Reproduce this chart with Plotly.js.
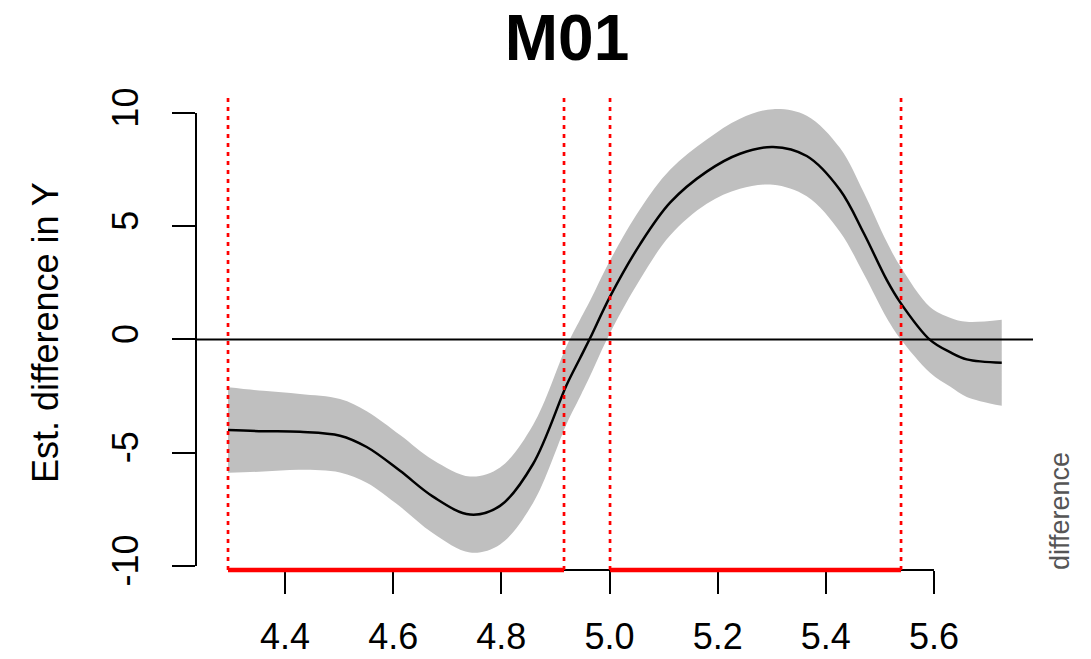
<!DOCTYPE html>
<html>
<head>
<meta charset="utf-8">
<script src="https://cdn.plot.ly/plotly-3.0.1.min.js"></script>
<style>html,body{margin:0;padding:0;background:#fff;}#chart{width:1091px;height:659px;}</style>
</head>
<body>
<div id="chart"></div>
<script>
// Predictor values (x)
var xVals = [4.2946, 4.36, 4.4277, 4.5017, 4.5511, 4.6127, 4.6737, 4.7421, 4.7976, 4.8586, 4.9209, 4.9455, 4.964, 5.001, 5.0564, 5.1124, 5.1798, 5.2413, 5.3024, 5.3647, 5.4263, 5.47, 5.5126, 5.5372, 5.5927, 5.6297, 5.6606, 5.7253];
// Estimated difference (fit)
var fitVals = [-4.00, -4.05, -4.08, -4.25, -4.75, -5.80, -6.94, -7.73, -7.35, -5.50, -2.00, -0.83, 0.05, 1.89, 4.20, 6.05, 7.41, 8.20, 8.50, 8.10, 6.60, 4.70, 2.63, 1.65, -0.02, -0.56, -0.88, -1.03];
// Confidence interval half-width
var ciVals = [1.89, 1.78, 1.67, 1.62, 1.58, 1.58, 1.62, 1.68, 1.70, 1.72, 1.72, 1.70, 1.66, 1.60, 1.55, 1.45, 1.42, 1.55, 1.67, 1.78, 1.85, 1.80, 1.68, 1.60, 1.45, 1.52, 1.66, 1.90];
// Regions where difference is significant
var sigStart = [4.2946, 5.0010];
var sigEnd = [4.9159, 5.5391];
// Axis ticks
var xTicks = [4.4, 4.6, 4.8, 5.0, 5.2, 5.4, 5.6];
var xTickText = ["4.4", "4.6", "4.8", "5.0", "5.2", "5.4", "5.6"];
var yTicks = [-10, -5, 0, 5, 10];
var yTickText = ["-10", "-5", "0", "5", "10"];

var upper = xVals.map(function(_, i){ return fitVals[i] + ciVals[i]; });
var lower = xVals.map(function(_, i){ return fitVals[i] - ciVals[i]; });

var lowerTrace = {
  x: xVals, y: lower, type: 'scatter', mode: 'lines',
  line: {width: 0, shape: 'spline', color: 'rgba(0,0,0,0)'},
  hoverinfo: 'skip', showlegend: false
};
var upperTrace = {
  x: xVals, y: upper, type: 'scatter', mode: 'lines', fill: 'tonexty',
  fillcolor: 'rgb(191,191,191)', line: {width: 0, shape: 'spline', color: 'rgba(0,0,0,0)'},
  hoverinfo: 'skip', showlegend: false
};
var fitLine = {
  x: xVals, y: fitVals, type: 'scatter', mode: 'lines',
  line: {color: 'black', width: 2.5, shape: 'spline'}, showlegend: false
};

var shapes = [];
// zero line
shapes.push({type: 'line', xref: 'paper', yref: 'y', x0: 0, x1: 1, y0: 0, y1: 0, line: {color: 'black', width: 2}});
// y axis line
shapes.push({type: 'line', xref: 'paper', yref: 'y', x0: 0, x1: 0, y0: yTicks[0], y1: yTicks[yTicks.length-1], line: {color: 'black', width: 2}});
// x axis line
shapes.push({type: 'line', xref: 'x', yref: 'paper', x0: xTicks[0], x1: xTicks[xTicks.length-1], y0: 0, y1: 0, line: {color: 'black', width: 2}});
// significance markers
for (var i = 0; i < sigStart.length; i++) {
  [sigStart[i], sigEnd[i]].forEach(function(v){
    shapes.push({type: 'line', xref: 'x', yref: 'paper', x0: v, x1: v, y0: 0, y1: 1, line: {color: 'red', width: 2.7, dash: '4px,5px'}});
  });
  shapes.push({type: 'line', xref: 'x', yref: 'paper', x0: sigStart[i], x1: sigEnd[i], y0: 0, y1: 0, line: {color: 'red', width: 4.5}});
}

var font = 'Liberation Sans, Arial, Helvetica, sans-serif';
var layout = {
  width: 1091, height: 659,
  margin: {l: 196, r: 58, t: 96, b: 89},
  paper_bgcolor: 'white', plot_bgcolor: 'white',
  showlegend: false,
  title: {text: '<b>M01</b>', font: {family: font, size: 64, color: 'black'}, xref: 'container', yref: 'container', x: 567/1091, xanchor: 'center', y: 1 - 38/659, yanchor: 'middle'},
  xaxis: {range: [4.2354, 5.7831], showgrid: false, zeroline: false, showline: false,
    tickmode: 'array', tickvals: xTicks, ticktext: xTickText,
    ticks: 'outside', ticklen: 23, tickwidth: 2, tickcolor: 'black',
    tickfont: {family: font, size: 36, color: 'black'}, ticklabelstandoff: 12},
  yaxis: {range: [-10.18, 10.75], showgrid: false, zeroline: false, showline: false,
    tickmode: 'array', tickvals: yTicks, ticktext: yTickText,
    ticks: 'outside', ticklen: 23, tickwidth: 2, tickcolor: 'black', tickangle: -90,
    tickfont: {family: font, size: 36, color: 'black'}, ticklabelstandoff: 20},
  shapes: shapes,
  annotations: [
    {text: 'Est. difference in Y', xref: 'paper', yref: 'paper', x: (45-196)/837, y: 0.5, xanchor: 'center', yanchor: 'middle', textangle: -90, showarrow: false, font: {family: font, size: 36, color: 'black'}},
    {text: 'difference', xref: 'paper', yref: 'paper', x: (1060-196)/837, y: (570-511)/474, xanchor: 'center', yanchor: 'middle', textangle: -90, showarrow: false, font: {family: font, size: 27, color: '#555555'}}
  ]
};

Plotly.newPlot('chart', [lowerTrace, upperTrace, fitLine], layout, {displayModeBar: false, staticPlot: true});
</script>
</body>
</html>
